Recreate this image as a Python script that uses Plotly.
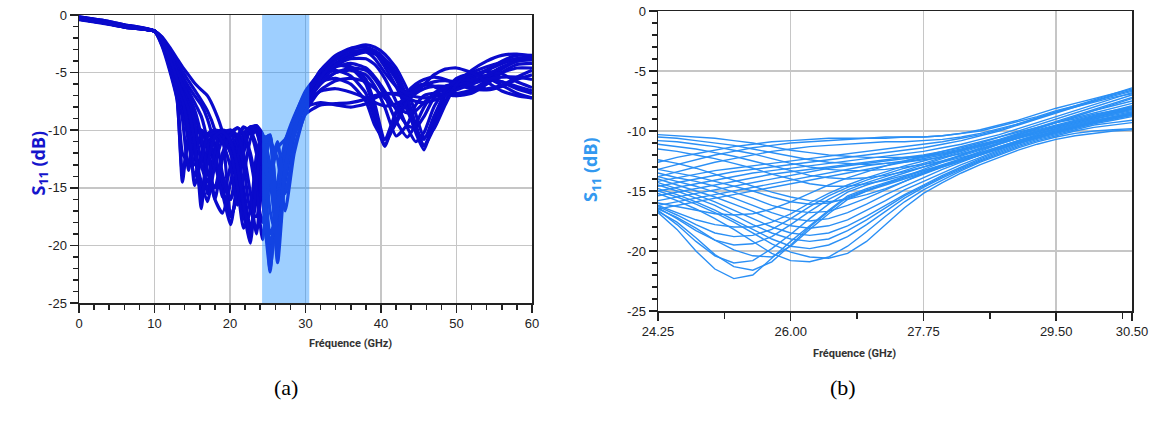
import plotly.graph_objects as go

# ---------------- Panel (a): S11 over 0-60 GHz ----------------
FREQ_A = [0, 3, 6, 10,
          11, 12, 13, 13.7, 14.5, 15.3, 16.2, 17, 18, 19,
          20.1, 21, 21.8, 22.7, 23.5, 24.3, 25.3, 26.3, 27.3, 28.5,
          30, 32, 34, 36, 38, 39.2, 40.5, 42, 43.5, 44.6,
          45.7, 47, 48.5, 50, 52, 54, 56, 58, 60]

S11_A1 = [-0.15, -0.45, -0.85, -1.4,
          -2.6, -4.6, -7.3, -14.5, -10.5, -9.8, -10.2, -11.2, -13, -15.5,
          -18.2, -14, -11, -9.7, -9.7, -11.5, -22.3, -14.5, -11, -8.8,
          -6.8, -5.2, -4.8, -5.3, -6.8, -9, -11.4, -8.5, -6.8, -6.2,
          -6.0, -6.2, -6.7, -7.0, -6.8, -6.0, -5.0, -4.3, -4.2]
S11_A2 = [-0.2, -0.5, -0.9, -1.4,
          -2.4, -4.2, -6.6, -9, -13.5, -10.5, -10, -10.8, -12.5, -15,
          -17.5, -15.5, -12, -10, -9.6, -11, -20.5, -15.5, -11.5, -9,
          -6.9, -5, -4.3, -4.6, -6, -8.5, -11.2, -9.2, -7, -6.3,
          -6.1, -6.2, -6.5, -6.8, -6.5, -5.7, -4.7, -4, -3.8]
S11_A3 = [-0.25, -0.55, -0.95, -1.4,
          -2.2, -3.6, -5.4, -6.6, -7.8, -10, -16.8, -11.5, -10, -10.2,
          -11.5, -14, -17, -19.8, -14, -10.8, -10.5, -20.8, -13, -9.8,
          -7.4, -5.5, -4.2, -3.4, -3, -3.3, -4.2, -5.6, -8, -10.2,
          -11.7, -9.2, -6.7, -5.5, -5.1, -5.4, -6.1, -6.8, -7.2]
S11_A4 = [-0.3, -0.6, -1.0, -1.4,
          -2.3, -3.9, -6, -7, -8.8, -14.8, -12.5, -10.5, -10, -10.5,
          -12, -14.5, -17.5, -18.8, -13, -10.5, -11, -19.5, -13.8, -10.2,
          -7.6, -5.8, -4.5, -3.6, -3.2, -3.4, -4, -5.2, -7.5, -9.8,
          -11.3, -9.5, -7, -5.8, -5.3, -5.3, -5.8, -6.4, -6.8]
S11_A5 = [-0.35, -0.65, -1.05, -1.4,
          -1.9, -2.8, -3.8, -4.5, -5.2, -5.9, -6.5, -7, -8.3, -10.2,
          -17.5, -15.5, -11.8, -9.8, -9.6, -10.3, -14.5, -18.5, -12.5, -9.5,
          -7, -5, -3.9, -3.3, -3, -3.3, -4.5, -6.2, -8.3, -10,
          -10.8, -8.8, -6.8, -5.8, -5.3, -4.8, -4.2, -3.8, -3.6]
S11_A6 = [-0.3, -0.6, -1.0, -1.4,
          -2, -3.1, -4.4, -5.3, -6.2, -7, -7.8, -9, -11.5, -15.8,
          -13, -10.5, -9.7, -10.2, -12, -16, -22, -16, -11.5, -9,
          -6.6, -5, -4.4, -4.5, -5.6, -7.8, -10.8, -9.4, -7.5, -6.8,
          -6.4, -6.2, -6.2, -6.3, -6, -5.4, -4.6, -4, -3.7]
S11_A7 = [-0.2, -0.5, -0.9, -1.4,
          -2.1, -3.4, -5, -6, -7.2, -8.5, -11, -15.5, -11.5, -10,
          -10.3, -12, -15, -18.5, -16, -11.5, -10.6, -17.5, -14.5, -10.5,
          -7.8, -6, -5, -4.8, -5.2, -6.2, -8, -10.5, -9.5, -7.8,
          -7, -6.8, -6.9, -7, -6.6, -5.8, -5, -4.6, -4.6]
S11_A8 = [-0.15, -0.45, -0.85, -1.4,
          -2.5, -4.4, -7, -12, -12.8, -10.2, -10, -10.8, -12.4, -14.5,
          -16, -13, -10.6, -10, -10.2, -12.5, -19, -17, -12.2, -9.8,
          -8, -7.6, -7.8, -8, -7.7, -7.2, -6.9, -6.8, -6.9, -7.1,
          -7.2, -7.1, -6.8, -6.2, -5.5, -4.8, -4.2, -3.8, -3.6]
S11_A9 = [-0.4, -0.7, -1.05, -1.4,
          -2.7, -4.8, -7.4, -13.8, -11, -10.3, -11.3, -13.5, -16, -17.2,
          -14.5, -11.3, -9.8, -10.1, -11.3, -14, -21, -16.5, -12, -9.4,
          -7.2, -5.8, -5.5, -6, -7.5, -9.6, -10.8, -8.4, -6.7, -6,
          -5.6, -5.4, -5.6, -6, -6.4, -6.5, -6.2, -5.6, -5.2]
S11_A10 = [-0.25, -0.55, -0.95, -1.4,
           -2.2, -3.5, -5.2, -6.3, -7.5, -9.2, -13, -14.5, -12, -10.2,
           -10, -11, -13, -17, -17.5, -12.5, -10.8, -20, -14.2, -10.5,
           -7.2, -4.8, -3.5, -2.9, -2.8, -3.1, -3.8, -5, -7.2, -9.5,
           -11.4, -9.8, -7.5, -6, -5.2, -4.9, -5.1, -5.8, -6.3]
S11_A11 = [-0.3, -0.6, -1.0, -1.4,
           -2.3, -3.8, -5.8, -7, -8.6, -12, -15.5, -12.5, -10.2, -10,
           -10.8, -12.8, -16, -19.2, -15, -11, -10.4, -18.8, -13.5, -10,
           -7.8, -6.6, -6.4, -6.7, -7.2, -7.6, -7.9, -7.7, -7.2, -6.6,
           -6.1, -5.8, -5.7, -5.8, -5.5, -4.8, -4, -3.5, -3.5]
S11_A12 = [-0.35, -0.65, -1.05, -1.4,
           -1.95, -3, -4.1, -4.9, -5.7, -6.5, -7.4, -8.3, -10, -13.8,
           -16, -12.5, -10.3, -9.7, -10, -12.5, -19.8, -17, -12, -9.2,
           -6.8, -5.2, -4.5, -4.2, -4.6, -5.4, -6.6, -8.2, -9.6, -9.8,
           -8.8, -7.2, -6.2, -6, -6.2, -6.4, -6.1, -5.4, -4.8]
S11_A13 = [-0.2, -0.5, -0.9, -1.4,
           -2.4, -4.1, -6.4, -8, -11, -14, -12, -10.3, -10, -10.6,
           -12, -15, -18.5, -17, -12.2, -10.4, -13, -21.5, -14, -10.2,
           -7.5, -5.8, -5, -4.6, -4.8, -5.6, -7, -9.2, -10.6, -9.5,
           -8, -6.8, -6.2, -6, -5.8, -5.2, -4.5, -4, -3.9]
S11_A14 = [-0.3, -0.6, -1.0, -1.4,
           -2, -3.2, -4.6, -5.6, -6.6, -7.6, -8.8, -11, -16, -12.5,
           -10.2, -9.8, -10.4, -12.5, -15.5, -18, -14.5, -11.5, -10.8, -9.2,
           -7, -5.3, -4.3, -3.8, -3.8, -4.3, -5.5, -7.5, -9.8, -11,
           -10.2, -8, -6.5, -5.6, -5, -4.5, -4.1, -3.8, -3.7]
S11_A15 = [-0.2, -0.5, -0.9, -1.4,
           -2.5, -4.3, -6.8, -7.6, -9.5, -12, -14.5, -16.2, -13, -10.8,
           -10, -10.5, -12, -15.5, -19, -14, -11, -12.5, -17, -12,
           -8.4, -6.5, -5.7, -5.5, -5.8, -6.4, -7.2, -8, -8.5, -8.3,
           -7.6, -6.9, -6.3, -5.8, -5.6, -5.6, -5.8, -6.2, -6.6]
S11_A16 = [-0.35, -0.65, -1.05, -1.4,
           -2.1, -3.3, -4.9, -6, -7, -8.2, -10.5, -13.5, -15, -12,
           -10.4, -9.8, -10.3, -12, -15, -19.5, -13.5, -11, -15.5, -11.5,
           -8.5, -5.5, -3.8, -2.9, -2.6, -2.8, -3.4, -4.6, -6.5, -8.6,
           -10.6, -9.9, -7.8, -6, -4.8, -4, -3.5, -3.4, -3.6]
S11_A17 = [-0.25, -0.55, -0.95, -1.4,
           -2.3, -4, -6.2, -7.4, -10, -13, -12.5, -10.6, -10.2, -11,
           -13.3, -16.5, -14, -10.8, -9.9, -10.6, -17, -19.5, -13, -10.4,
           -8.6, -7.8, -7.7, -7.6, -7.3, -7, -6.8, -6.9, -7.2, -7.5,
           -7.6, -7.4, -7, -6.5, -6, -5.6, -5.4, -5.4, -5.6]
S11_A18 = [-0.3, -0.6, -1.0, -1.4,
           -2.2, -3.7, -5.6, -6.8, -8.2, -11, -15.8, -13, -10.5, -10.1,
           -11, -13.2, -16.5, -19, -14.5, -11.2, -10.8, -20.3, -13.2, -10,
           -7, -4.8, -3.6, -3.1, -3.2, -3.8, -5, -6.2, -6.8, -6.6,
           -6, -5.2, -4.7, -4.6, -5, -5.8, -6.6, -7, -7.2]

CURVES_A = [S11_A1, S11_A2, S11_A3, S11_A4, S11_A5, S11_A6, S11_A7, S11_A8, S11_A9,
            S11_A10, S11_A11, S11_A12, S11_A13, S11_A14, S11_A15, S11_A16, S11_A17, S11_A18]

BAND = [24.25, 30.5]
XTICKS_A = [0, 10, 20, 30, 40, 50, 60]
YTICKS = [0, -5, -10, -15, -20, -25]
YTICKTEXT = ["0", "-5", "-10", "-15", "-20", "-25"]

# ---------------- Panel (b): zoom 24.25-30.5 GHz ----------------
FREQ_B = [24.25, 24.5, 24.75, 25.0, 25.25, 25.5, 25.75, 26.0, 26.25, 26.5,
          26.75, 27.0, 27.25, 27.5, 27.75, 28.0, 28.25, 28.5, 28.75, 29.0,
          29.25, 29.5, 29.75, 30.0, 30.25, 30.5]

S11_B1 = [-16.8, -18.2, -20, -21.5, -22.3, -22, -20.6, -19.2, -17.9, -16.6,
          -15.4, -14.8, -14.3, -13.8, -13.3, -12.8, -12.3, -11.8, -11.3, -10.8,
          -10.4, -10, -9.6, -9.2, -8.9, -8.6]
S11_B2 = [-16.6, -17.8, -19.2, -20.4, -21, -20.8, -19.8, -18.6, -17.3, -16.1,
          -15.1, -14.5, -14, -13.5, -13, -12.5, -12, -11.5, -11, -10.6,
          -10.2, -9.8, -9.4, -9, -8.7, -8.4]
S11_B3 = [-16.4, -17.3, -18.3, -19.1, -19.5, -19.4, -18.8, -17.8, -16.7, -15.7,
          -14.9, -14.3, -13.8, -13.3, -12.8, -12.3, -11.8, -11.3, -10.9, -10.5,
          -10.1, -9.7, -9.3, -8.9, -8.5, -8.2]
S11_B4 = [-16.2, -16.8, -17.4, -17.8, -18, -18, -17.6, -16.9, -16, -15.2,
          -14.5, -13.9, -13.4, -12.9, -12.5, -12.1, -11.6, -11.2, -10.8, -10.4,
          -10, -9.6, -9.2, -8.8, -8.5, -8.1]
S11_B5 = [-16, -16.3, -16.6, -16.9, -17, -16.9, -16.5, -15.9, -15.2, -14.5,
          -13.9, -13.4, -12.9, -12.5, -12.1, -11.7, -11.3, -10.9, -10.5, -10.1,
          -9.7, -9.3, -9, -8.6, -8.3, -8]
S11_B6 = [-15.2, -15.8, -16.5, -17.3, -18.2, -19.2, -20.2, -20.8, -20.9, -20.5,
          -19.6, -18.4, -17.1, -15.9, -14.9, -14.1, -13.3, -12.6, -12, -11.4,
          -10.9, -10.5, -10.2, -10, -9.9, -9.8]
S11_B7 = [-14.8, -15.3, -15.9, -16.6, -17.4, -18.2, -19, -19.6, -19.8, -19.5,
          -18.8, -17.8, -16.7, -15.6, -14.7, -13.9, -13.2, -12.5, -11.9, -11.3,
          -10.8, -10.4, -10, -9.7, -9.5, -9.3]
S11_B8 = [-14.3, -14.8, -15.3, -15.9, -16.6, -17.3, -18, -18.5, -18.7, -18.5,
          -17.9, -17.1, -16.2, -15.3, -14.5, -13.7, -13, -12.3, -11.7, -11.1,
          -10.6, -10.1, -9.7, -9.3, -9, -8.7]
S11_B9 = [-13.8, -14.2, -14.6, -15.1, -15.6, -16.2, -16.8, -17.3, -17.5, -17.3,
          -16.8, -16.1, -15.3, -14.6, -13.9, -13.2, -12.6, -12, -11.4, -10.8,
          -10.3, -9.8, -9.4, -9, -8.6, -8.2]
S11_B10 = [-13.2, -13.5, -13.8, -14.2, -14.6, -15, -15.5, -15.9, -16.1, -16,
           -15.6, -15, -14.4, -13.8, -13.2, -12.6, -12, -11.4, -10.8, -10.3,
           -9.8, -9.3, -8.9, -8.5, -8.1, -7.7]
S11_B11 = [-16.5, -16.2, -15.9, -15.6, -15.3, -15, -14.7, -14.4, -14.1, -13.8,
           -13.5, -13.2, -12.9, -12.6, -12.3, -12, -11.6, -11.2, -10.8, -10.3,
           -9.8, -9.3, -8.8, -8.3, -7.8, -7.3]
S11_B12 = [-15.8, -15.5, -15.2, -14.9, -14.6, -14.3, -14, -13.7, -13.4, -13.1,
           -12.9, -12.7, -12.5, -12.3, -12.1, -11.8, -11.5, -11.1, -10.7, -10.2,
           -9.7, -9.2, -8.7, -8.2, -7.7, -7.2]
S11_B13 = [-15, -14.7, -14.4, -14.1, -13.8, -13.5, -13.3, -13.1, -12.9, -12.7,
           -12.5, -12.3, -12.1, -11.9, -11.7, -11.4, -11.1, -10.7, -10.3, -9.8,
           -9.3, -8.8, -8.3, -7.8, -7.3, -6.8]
S11_B14 = [-14.2, -13.9, -13.6, -13.3, -13.1, -12.9, -12.7, -12.5, -12.3, -12.1,
           -11.9, -11.7, -11.5, -11.3, -11.1, -10.9, -10.6, -10.3, -9.9, -9.4,
           -8.9, -8.4, -7.9, -7.4, -6.9, -6.4]
S11_B15 = [-10.3, -10.4, -10.5, -10.6, -10.8, -11, -11.3, -11.6, -11.8, -12,
           -12.1, -12.2, -12.2, -12.2, -12.1, -11.9, -11.6, -11.2, -10.8, -10.3,
           -9.9, -9.5, -9.1, -8.7, -8.3, -7.9]
S11_B16 = [-10.8, -10.9, -11.1, -11.3, -11.6, -11.9, -12.3, -12.7, -13, -13.2,
           -13.3, -13.3, -13.2, -13, -12.8, -12.5, -12.1, -11.6, -11.1, -10.6,
           -10.2, -9.8, -9.4, -9, -8.6, -8.3]
S11_B17 = [-11.5, -11.7, -12, -12.3, -12.7, -13.1, -13.6, -14, -14.4, -14.6,
           -14.6, -14.4, -14.1, -13.7, -13.3, -12.9, -12.4, -11.9, -11.4, -10.9,
           -10.4, -10, -9.6, -9.2, -8.9, -8.6]
S11_B18 = [-12.4, -12.7, -13.1, -13.6, -14.1, -14.6, -15.1, -15.5, -15.8, -15.9,
           -15.7, -15.3, -14.8, -14.2, -13.6, -13, -12.5, -12, -11.5, -11,
           -10.5, -10.1, -9.7, -9.3, -8.9, -8.5]
S11_B19 = [-13.2, -12.8, -12.4, -12, -11.7, -11.4, -11.2, -11, -10.9, -10.8,
           -10.7, -10.6, -10.6, -10.5, -10.5, -10.4, -10.2, -9.9, -9.5, -9.1,
           -8.6, -8.1, -7.7, -7.3, -6.9, -6.5]
S11_B20 = [-16.7, -17.6, -18.9, -20.3, -21.3, -21.6, -20.9, -19.5, -18, -16.7,
           -15.5, -14.9, -14.4, -13.9, -13.4, -12.9, -12.4, -11.9, -11.4, -10.9,
           -10.5, -10.1, -9.7, -9.3, -9, -8.7]
S11_B21 = [-16.5, -17.2, -18.1, -19.1, -19.9, -20.4, -20.5, -19.6, -18.2, -16.9,
           -15.7, -15, -14.5, -14, -13.5, -13, -12.5, -12, -11.5, -11,
           -10.6, -10.2, -9.8, -9.4, -9.1, -8.8]
S11_B22 = [-16.3, -17, -17.8, -18.5, -18.8, -18.7, -18.2, -17.3, -16.3, -15.4,
           -14.7, -14.1, -13.6, -13.1, -12.7, -12.2, -11.7, -11.2, -10.8, -10.4,
           -10, -9.6, -9.2, -8.8, -8.4, -8.1]
S11_B23 = [-15, -15.5, -16.1, -16.8, -17.6, -18.5, -19.4, -20.1, -20.5, -20.6,
           -20.2, -19.2, -17.8, -16.4, -15.2, -14.3, -13.5, -12.8, -12.2, -11.6,
           -11.1, -10.7, -10.4, -10.2, -10, -9.9]
S11_B24 = [-14.5, -15, -15.6, -16.2, -17, -17.8, -18.5, -19, -19.2, -19,
           -18.3, -17.4, -16.4, -15.4, -14.6, -13.8, -13.1, -12.4, -11.8, -11.2,
           -10.7, -10.3, -9.9, -9.5, -9.3, -9.1]
S11_B25 = [-14, -14.5, -15, -15.5, -16.1, -16.7, -17.4, -17.9, -18.1, -17.9,
           -17.4, -16.6, -15.8, -14.9, -14.2, -13.5, -12.8, -12.2, -11.6, -11,
           -10.5, -10, -9.6, -9.2, -8.8, -8.5]
S11_B26 = [-13.5, -13.9, -14.2, -14.6, -15.1, -15.6, -16.2, -16.6, -16.8, -16.7,
           -16.2, -15.6, -14.9, -14.2, -13.5, -12.9, -12.3, -11.7, -11.1, -10.6,
           -10.1, -9.6, -9.2, -8.8, -8.4, -8]
S11_B27 = [-16.2, -15.9, -15.6, -15.3, -15, -14.7, -14.4, -14.1, -13.8, -13.5,
           -13.2, -12.9, -12.7, -12.5, -12.2, -11.9, -11.6, -11.2, -10.8, -10.3,
           -9.8, -9.3, -8.8, -8.3, -7.9, -7.5]
S11_B28 = [-15.4, -15.1, -14.8, -14.5, -14.2, -13.9, -13.6, -13.4, -13.2, -13,
           -12.8, -12.6, -12.4, -12.2, -12, -11.7, -11.4, -11, -10.5, -10,
           -9.5, -9, -8.5, -8, -7.5, -7]
S11_B29 = [-14.6, -14.3, -14, -13.7, -13.4, -13.2, -13, -12.8, -12.6, -12.4,
           -12.2, -12, -11.8, -11.6, -11.4, -11.1, -10.8, -10.4, -10, -9.5,
           -9, -8.5, -8, -7.5, -7, -6.6]
S11_B30 = [-10.5, -10.6, -10.8, -11, -11.2, -11.5, -11.8, -12.1, -12.4, -12.6,
           -12.7, -12.8, -12.7, -12.6, -12.4, -12.2, -11.9, -11.5, -11, -10.5,
           -10, -9.6, -9.2, -8.8, -8.4, -8.1]
S11_B31 = [-11.1, -11.3, -11.5, -11.8, -12.1, -12.5, -12.9, -13.3, -13.7, -13.9,
           -14, -13.9, -13.7, -13.4, -13, -12.6, -12.2, -11.8, -11.3, -10.8,
           -10.3, -9.9, -9.5, -9.1, -8.8, -8.5]
S11_B32 = [-12.6, -12.2, -11.9, -11.6, -11.3, -11.1, -10.9, -10.8, -10.7, -10.6,
           -10.6, -10.6, -10.5, -10.5, -10.5, -10.4, -10.2, -10, -9.6, -9.2,
           -8.8, -8.3, -7.9, -7.5, -7.1, -6.7]
S11_B33 = [-13.8, -13.4, -13, -12.6, -12.3, -12, -11.7, -11.5, -11.3, -11.2,
           -11.1, -11, -10.9, -10.9, -10.8, -10.7, -10.5, -10.2, -9.8, -9.4,
           -8.9, -8.4, -8, -7.6, -7.2, -6.9]

CURVES_B = [S11_B1, S11_B2, S11_B3, S11_B4, S11_B5, S11_B6, S11_B7, S11_B8, S11_B9,
            S11_B10, S11_B11, S11_B12, S11_B13, S11_B14, S11_B15, S11_B16, S11_B17,
            S11_B18, S11_B19, S11_B20, S11_B21, S11_B22, S11_B23, S11_B24, S11_B25,
            S11_B26, S11_B27, S11_B28, S11_B29, S11_B30, S11_B31, S11_B32, S11_B33]

XTICKS_B = [24.25, 26.00, 27.75, 29.50, 30.50]
XTICKTEXT_B = ["24.25", "26.00", "27.75", "29.50", "30.50"]
XMINOR_B = [25.125, 26.875, 28.625, 30.375]

# ---------------- Figure ----------------
W, H = 1156, 421
COL_A = "#0a0acc"
COL_B = "#2a8ff5"
AXC = "#222222"
GRID = "#c6c6c6"

fig = go.Figure()
for c in CURVES_A:
    fig.add_trace(go.Scatter(x=FREQ_A, y=c, mode="lines", xaxis="x", yaxis="y",
                             line=dict(color=COL_A, width=3.2, shape="spline", smoothing=0.55),
                             showlegend=False, hoverinfo="skip"))
for c in CURVES_B:
    fig.add_trace(go.Scatter(x=FREQ_B, y=c, mode="lines", xaxis="x2", yaxis="y2",
                             line=dict(color=COL_B, width=1.4),
                             showlegend=False, hoverinfo="skip"))


def px_x(p):
    return p / W


def px_y(p):
    return 1 - p / H


tickfont = dict(family="Liberation Sans, Arial, sans-serif", size=13, color=AXC)
common = dict(showline=True, linecolor=AXC, linewidth=1.5, mirror=True,
              ticks="outside", tickcolor=AXC, tickwidth=1.5, ticklen=8,
              showgrid=True, gridcolor=GRID, gridwidth=1.4, zeroline=False,
              tickfont=tickfont, automargin=False, fixedrange=True,
              ticklabeloverflow="allow")

fig.update_layout(
    template="none",
    width=W, height=H,
    margin=dict(l=0, r=0, t=0, b=0),
    paper_bgcolor="white", plot_bgcolor="white",
    xaxis=dict(domain=[px_x(79), px_x(532)], range=[0, 60], anchor="y",
               tickvals=XTICKS_A,
               minor=dict(dtick=2, tick0=0, ticks="outside", ticklen=5, tickwidth=1.5,
                          tickcolor=AXC, showgrid=False),
               **common),
    yaxis=dict(domain=[px_y(303), px_y(15)], range=[-25, 0], anchor="x",
               tickvals=YTICKS, ticktext=YTICKTEXT,
               minor=dict(dtick=1, tick0=0, ticks="outside", ticklen=5, tickwidth=1.5,
                          tickcolor=AXC, showgrid=False),
               **common),
    xaxis2=dict(domain=[px_x(658), px_x(1132)], range=[24.25, 30.5], anchor="y2",
                tickvals=XTICKS_B, ticktext=XTICKTEXT_B,
                minor=dict(tickvals=XMINOR_B, ticks="outside", ticklen=6, tickwidth=1.5,
                           tickcolor=AXC, showgrid=False),
                **common),
    yaxis2=dict(domain=[px_y(311), px_y(11)], range=[-25, 0], anchor="x2",
                tickvals=YTICKS, ticktext=YTICKTEXT,
                minor=dict(dtick=1, tick0=0, ticks="outside", ticklen=5, tickwidth=1.5,
                           tickcolor=AXC, showgrid=False),
                **common),
    shapes=[dict(type="rect", xref="x", yref="y", x0=BAND[0], x1=BAND[1], y0=-25, y1=0,
                 fillcolor="rgba(30,144,255,0.43)", line=dict(width=0), layer="above")],
)

ann_font_title = dict(family="Liberation Sans Narrow, Roboto, sans-serif", size=11, color="#333333")
ylab_font = dict(family="Open Sans, Liberation Sans, sans-serif", size=18)
fig.add_annotation(x=px_x(307), y=px_y(352), xref="paper", yref="paper",
                   text="<b>Fréquence (GHz)</b>", showarrow=False, font=ann_font_title)
fig.add_annotation(x=px_x(898), y=px_y(362), xref="paper", yref="paper",
                   text="<b>Fréquence (GHz)</b>", showarrow=False, font=ann_font_title)
fig.add_annotation(x=px_x(24), y=px_y(163), xref="paper", yref="paper", textangle=-90,
                   text="<b>S<sub>11</sub> (dB)</b>", showarrow=False,
                   font=dict(color="#1515cc", **ylab_font))
fig.add_annotation(x=px_x(591), y=px_y(170), xref="paper", yref="paper", textangle=-90,
                   text="<b>S<sub>11</sub> (dB)</b>", showarrow=False,
                   font=dict(color="#3399f0", **ylab_font))
cap_font = dict(family="Liberation Serif, Times New Roman, serif", size=22, color="black")
fig.add_annotation(x=px_x(272), y=px_y(402), xref="paper", yref="paper",
                   text="(a)", showarrow=False, font=cap_font)
fig.add_annotation(x=px_x(858), y=px_y(402), xref="paper", yref="paper",
                   text="(b)", showarrow=False, font=cap_font)

fig.write_html("out.html",
               config={"displayModeBar": False, "staticPlot": True},
               post_script="document.body.style.margin='0';document.body.style.overflow='hidden';")
